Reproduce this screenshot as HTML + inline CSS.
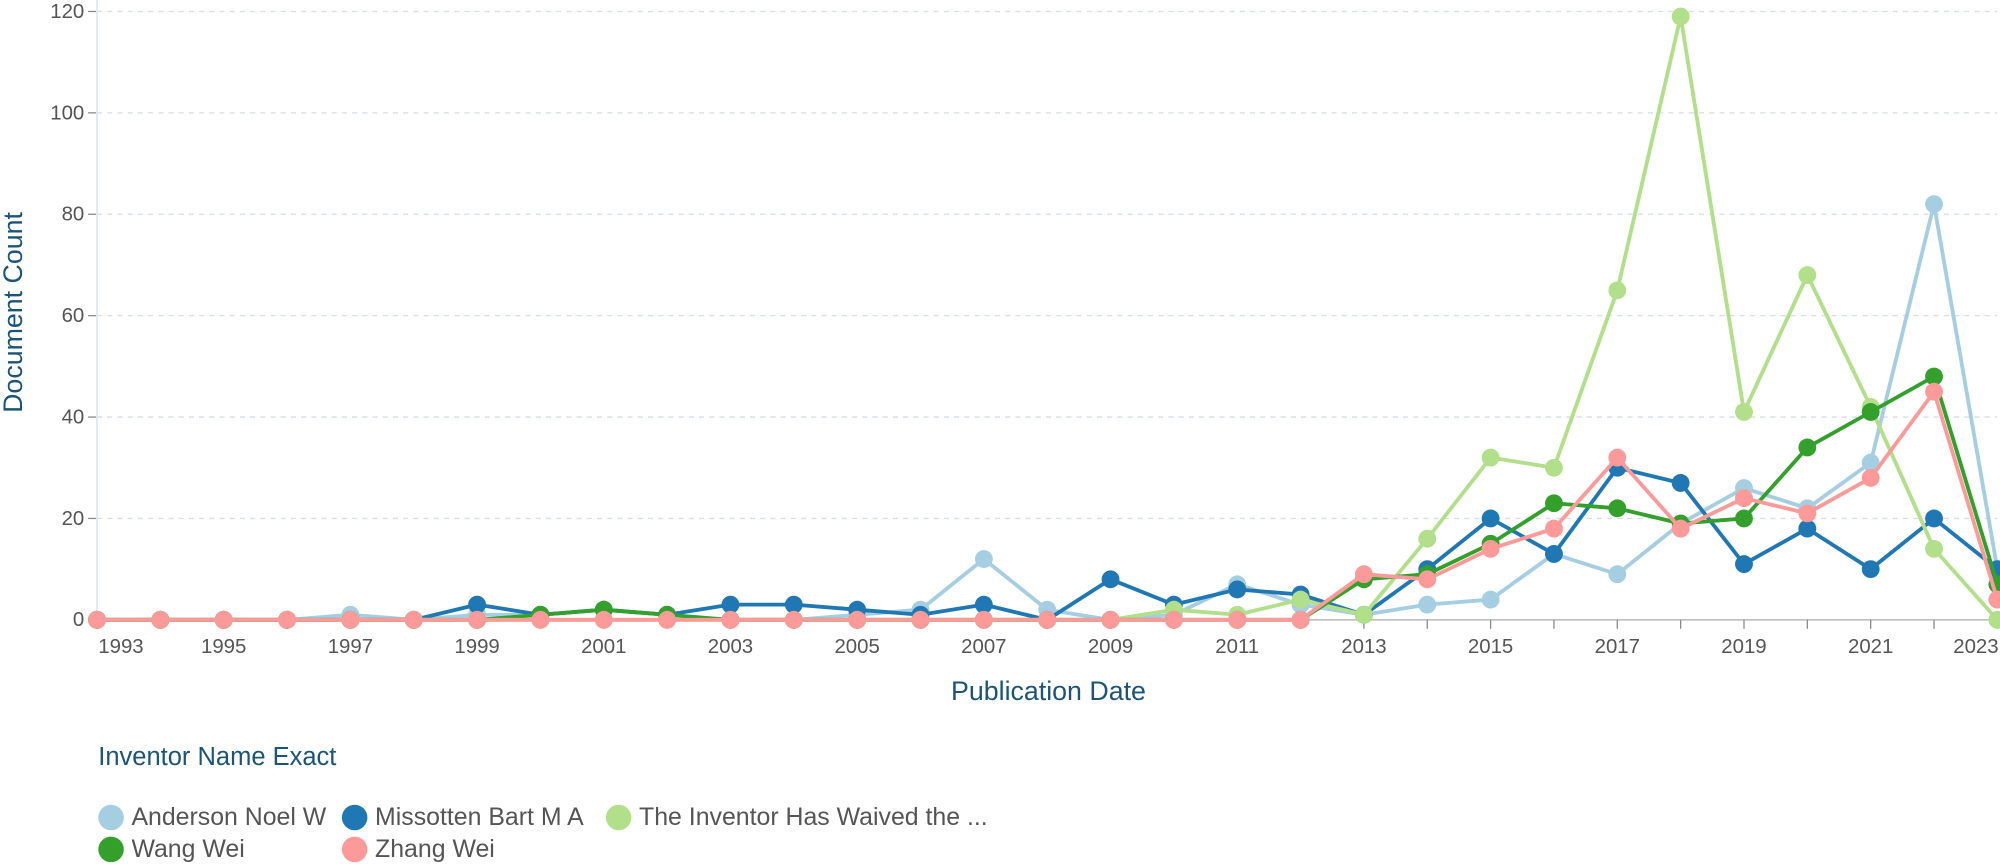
<!DOCTYPE html>
<html><head><meta charset="utf-8"><style>
html,body{margin:0;padding:0;background:#fff;}
svg{display:block;font-family:"Liberation Sans",sans-serif;}
</style></head><body>
<svg id="chart" width="2000" height="866" viewBox="0 0 1568 679" xmlns="http://www.w3.org/2000/svg">
<g id="grid"></g>
<g id="axes"></g>
<g id="series"></g>
<text transform="translate(17,245) rotate(-90)" text-anchor="middle" font-size="21" fill="#1b5478">Document Count</text>
<text x="822" y="549" text-anchor="middle" font-size="21" fill="#1b5478">Publication Date</text>
<g id="legend">
<text x="77" y="600" font-size="20" fill="#1b5478">Inventor Name Exact</text>
</g>
</svg>
<script>
const years = [1993,1994,1995,1996,1997,1998,1999,2000,2001,2002,2003,2004,2005,2006,2007,2008,2009,2010,2011,2012,2013,2014,2015,2016,2017,2018,2019,2020,2021,2022,2023];
const anderson = [0,0,0,0,1,0,1,1,2,1,0,0,1,2,12,2,0,1,7,3,1,3,4,13,9,19,26,22,31,82,10];
const missotten = [0,0,0,0,0,0,3,1,2,1,3,3,2,1,3,0,8,3,6,5,1,10,20,13,30,27,11,18,10,20,10];
const waived = [0,0,0,0,0,0,0,0,0,0,0,0,0,0,0,0,0,2,1,4,1,16,32,30,65,119,41,68,42,14,0];
const wangWei = [0,0,0,0,0,0,0,1,2,1,0,0,0,0,0,0,0,0,0,0,8,9,15,23,22,19,20,34,41,48,7];
const zhangWei = [0,0,0,0,0,0,0,0,0,0,0,0,0,0,0,0,0,0,0,0,9,8,14,18,32,18,24,21,28,45,4];
const seriesNames = ["Anderson Noel W","Missotten Bart M A","The Inventor Has Waived the ...","Wang Wei","Zhang Wei"];
const seriesColors = ["#a6cee3","#1f78b4","#b2df8a","#33a02c","#fb9a99"];
const yTicks = [0,20,40,60,80,100,120];
const xTickLabels = [1993,1995,1997,1999,2001,2003,2005,2007,2009,2011,2013,2015,2017,2019,2021,2023];

const NS="http://www.w3.org/2000/svg";
const X0=76,X1=1566,Y0=486,Y1=9;
const xS=y=>X0+(y-years[0])/(years[years.length-1]-years[0])*(X1-X0);
const yS=v=>Y0-v/120*(Y0-Y1);
function mk(tag,attrs,parent){const e=document.createElementNS(NS,tag);for(const k in attrs)e.setAttribute(k,attrs[k]);parent.appendChild(e);return e;}
const grid=document.getElementById('grid'),axes=document.getElementById('axes'),ser=document.getElementById('series'),leg=document.getElementById('legend');
yTicks.forEach(t=>{
  if(t>0){const l=mk('line',{x1:X0,x2:X1,y1:yS(t),y2:yS(t),stroke:'#d5dcea','stroke-width':1,'stroke-dasharray':'4 4'},grid);
  
  }
  const tk=mk('line',{x1:X0-7,x2:X0,y1:yS(t),y2:yS(t),stroke:'#888','stroke-width':1},axes);
  
  
  const tx=mk('text',{x:X0-10,y:yS(t)+5,'text-anchor':'end','font-size':16,fill:'#555'},axes);
  
  
  tx.textContent=t;
});
const ya=mk('line',{x1:X0,x2:X0,y1:Y1-9,y2:Y0,stroke:'#e3e8f0','stroke-width':1.5},axes);


const xa=mk('line',{x1:X0,x2:X1,y1:Y0,y2:Y0,stroke:'#aaa','stroke-width':1},axes);


years.forEach(y=>{
  const tk=mk('line',{x1:xS(y),x2:xS(y),y1:Y0,y2:Y0+7,stroke:'#888','stroke-width':1},axes);
  
  
});
xTickLabels.forEach((y,i)=>{
  let x=xS(y),anchor='middle';
  if(i===0){x=X0+1;anchor='start';}
  if(i===xTickLabels.length-1){x=X1+1;anchor='end';}
  const tx=mk('text',{x:x,y:Y0+26,'text-anchor':anchor,'font-size':16,fill:'#555'},axes);
  
  
  tx.textContent=y;
});
const data=[anderson,missotten,waived,wangWei,zhangWei];
data.forEach((vals,si)=>{
  const g=mk('g',{},ser);
  
  
  const pts=vals.map((v,i)=>xS(years[i])+','+yS(v)).join(' ');
  const pl=mk('polyline',{points:pts,fill:'none',stroke:seriesColors[si],'stroke-width':3,'stroke-linejoin':'round'},g);
  
  
  vals.forEach((v,i)=>{
    const c=mk('circle',{cx:xS(years[i]),cy:yS(v),r:7,fill:seriesColors[si]},g);
    
    
  });
});
const legPos=[[87,641],[278,641],[485,641],[87,666],[278,666]];
seriesNames.forEach((n,i)=>{
  const [x,y]=legPos[i];
  const c=mk('circle',{cx:x,cy:y,r:10,fill:seriesColors[i]},leg);
  
  
  const t=mk('text',{x:x+16,y:y+6,'font-size':19.5,fill:'#555'},leg);
  
  
  t.textContent=n;
});
</script>
</body></html>
